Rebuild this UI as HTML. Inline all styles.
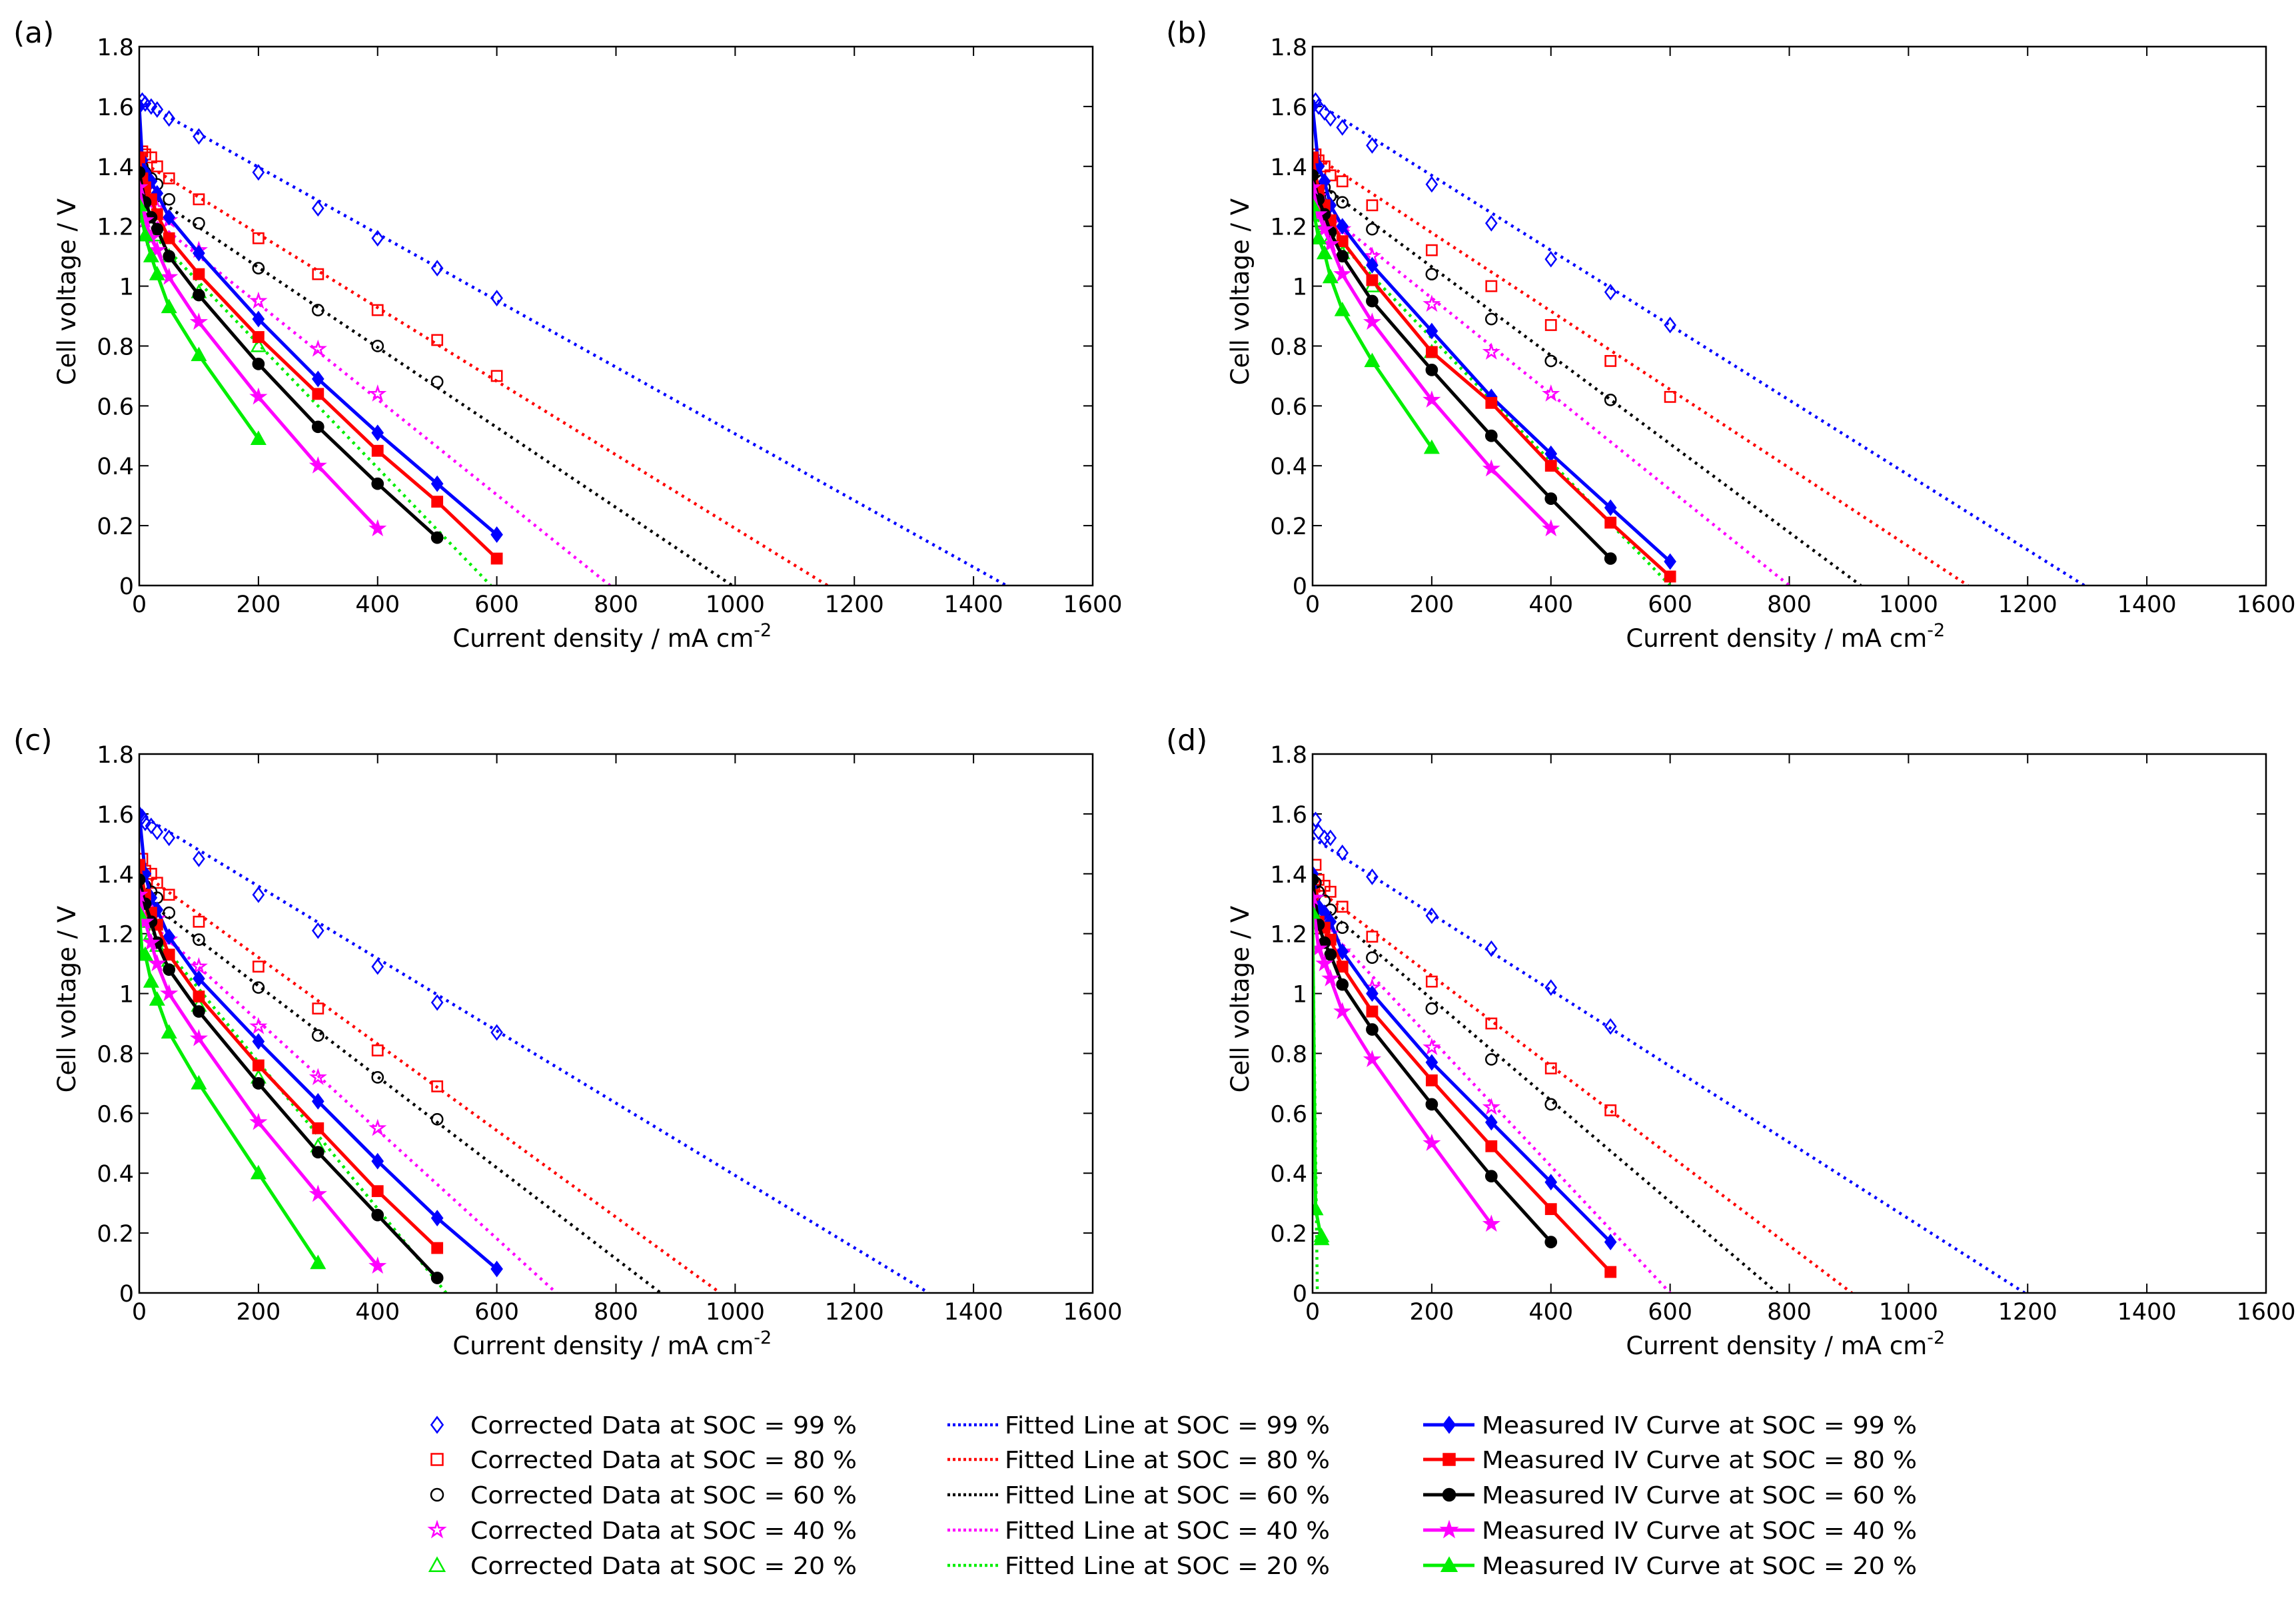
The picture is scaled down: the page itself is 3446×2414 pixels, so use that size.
<!DOCTYPE html>
<html><head><meta charset="utf-8">
<style>
html,body{margin:0;padding:0;background:#fff;}
svg{display:block;font-family:"DejaVu Sans","Liberation Sans",sans-serif;}
</style></head>
<body>
<svg id="fig" width="3446" height="2414" viewBox="0 0 3446 2414" xmlns="http://www.w3.org/2000/svg"></svg>
<script>
// ---------------- data ----------------
const xTicks = [0,200,400,600,800,1000,1200,1400,1600];
const yTicks = [0,0.2,0.4,0.6,0.8,1,1.2,1.4,1.6,1.8];
const yTickLabels = ["0","0.2","0.4","0.6","0.8","1","1.2","1.4","1.6","1.8"];
const socLabels = ["99","80","60","40","20"];
const colors = ["#0000ff","#ff0000","#000000","#ff00ff","#00ee00"];
const shapes = ["diamond","square","circle","star","triangle"];

// Panel (a)
const A_fitV0 = [1.62,1.42,1.33,1.26,1.22];
const A_fitX0 = [1455,1155,995,790,590];
const A_cx = [[5,10,20,30,50,100,200,300,400,500,600],[5,10,20,30,50,100,200,300,400,500,600],[5,10,20,30,50,100,200,300,400,500],[5,10,20,30,50,100,200,300,400],[5,10,20,30,50,100,200]];
const A_cv = [[1.62,1.61,1.60,1.59,1.56,1.50,1.38,1.26,1.16,1.06,0.96],[1.45,1.44,1.43,1.40,1.36,1.29,1.16,1.04,0.92,0.82,0.70],[1.40,1.38,1.36,1.34,1.29,1.21,1.06,0.92,0.80,0.68],[1.34,1.32,1.28,1.26,1.22,1.12,0.95,0.79,0.64],[1.28,1.25,1.20,1.17,1.10,0.98,0.80]];
const A_mx = [[0,5,10,20,30,50,100,200,300,400,500,600],[0,5,10,20,30,50,100,200,300,400,500,600],[0,10,20,30,50,100,200,300,400,500],[0,10,20,30,50,100,200,300,400],[0,10,20,30,50,100,200]];
const A_mv = [[1.60,1.42,1.38,1.35,1.31,1.23,1.11,0.89,0.69,0.51,0.34,0.17],[1.43,1.36,1.33,1.29,1.24,1.16,1.04,0.83,0.64,0.45,0.28,0.09],[1.38,1.28,1.23,1.19,1.10,0.97,0.74,0.53,0.34,0.16],[1.33,1.22,1.16,1.12,1.03,0.88,0.63,0.40,0.19],[1.27,1.17,1.10,1.04,0.93,0.77,0.49]];

// Panel (b)
const B_fitV0 = [1.62,1.44,1.36,1.28,1.24];
const B_fitX0 = [1295,1100,920,800,600];
const B_cx = [[5,10,20,30,50,100,200,300,400,500,600],[5,10,20,30,50,100,200,300,400,500,600],[5,10,20,30,50,100,200,300,400,500],[5,10,20,30,50,100,200,300,400],[5,10,20,30,50,100,200]];
const B_cv = [[1.62,1.60,1.58,1.56,1.53,1.47,1.34,1.21,1.09,0.98,0.87],[1.44,1.42,1.40,1.37,1.35,1.27,1.12,1.00,0.87,0.75,0.63],[1.38,1.36,1.33,1.30,1.28,1.19,1.04,0.89,0.75,0.62],[1.33,1.30,1.27,1.22,1.19,1.10,0.94,0.78,0.64],[1.28,1.24,1.20,1.16,1.11,1.00,0.78]];
const B_mx = [[0,10,20,30,50,100,200,300,400,500,600],[0,10,20,30,50,100,200,300,400,500,600],[0,10,20,30,50,100,200,300,400,500],[0,10,20,30,50,100,200,300,400],[0,10,20,30,50,100,200]];
const B_mv = [[1.60,1.40,1.35,1.27,1.20,1.07,0.85,0.63,0.44,0.26,0.08],[1.43,1.32,1.27,1.22,1.15,1.02,0.78,0.61,0.40,0.21,0.03],[1.37,1.29,1.24,1.18,1.10,0.95,0.72,0.50,0.29,0.09],[1.33,1.24,1.19,1.14,1.04,0.88,0.62,0.39,0.19],[1.27,1.16,1.11,1.03,0.92,0.75,0.46]];

// Panel (c)
const C_fitV0 = [1.60,1.41,1.33,1.27,1.26];
const C_fitX0 = [1325,975,875,700,515];
const C_cx = [[5,10,20,30,50,100,200,300,400,500,600],[5,10,20,30,50,100,200,300,400,500],[5,10,20,30,50,100,200,300,400,500],[5,10,20,30,50,100,200,300,400],[5,10,20,30,50,100,200,300]];
const C_cv = [[1.59,1.57,1.56,1.54,1.52,1.45,1.33,1.21,1.09,0.97,0.87],[1.45,1.41,1.40,1.37,1.33,1.24,1.09,0.95,0.81,0.69],[1.39,1.36,1.34,1.32,1.27,1.18,1.02,0.86,0.72,0.58],[1.33,1.31,1.28,1.25,1.18,1.09,0.89,0.72,0.55],[1.28,1.24,1.20,1.16,1.11,0.96,0.72,0.49]];
const C_mx = [[0,10,20,30,50,100,200,300,400,500,600],[0,10,20,30,50,100,200,300,400,500],[0,10,20,30,50,100,200,300,400,500],[0,10,20,30,50,100,200,300,400],[0,5,10,20,30,50,100,200,300]];
const C_mv = [[1.60,1.40,1.32,1.28,1.19,1.05,0.84,0.64,0.44,0.25,0.08],[1.43,1.33,1.27,1.23,1.13,0.99,0.76,0.55,0.34,0.15],[1.38,1.30,1.24,1.17,1.08,0.94,0.70,0.47,0.26,0.05],[1.33,1.24,1.17,1.10,1.00,0.85,0.57,0.33,0.09],[1.27,1.13,1.13,1.04,0.98,0.87,0.70,0.40,0.10]];

// Panel (d)
const D_fitV0 = [1.52,1.36,1.32,1.27,1.27];
const D_fitX0 = [1195,905,780,600,8];
const D_cx = [[5,10,20,30,50,100,200,300,400,500],[5,10,20,30,50,100,200,300,400,500],[5,10,20,30,50,100,200,300,400],[5,10,20,30,50,100,200,300],[2,15]];
const D_cv = [[1.58,1.54,1.52,1.52,1.47,1.39,1.26,1.15,1.02,0.89],[1.43,1.38,1.36,1.34,1.29,1.19,1.04,0.90,0.75,0.61],[1.37,1.34,1.31,1.28,1.22,1.12,0.95,0.78,0.63],[1.32,1.28,1.24,1.20,1.14,1.02,0.82,0.62],[1.27,0.19]];
const D_mx = [[0,10,20,30,50,100,200,300,400,500],[0,10,20,30,50,100,200,300,400,500],[0,10,20,30,50,100,200,300,400],[0,10,20,30,50,100,200,300],[0,5,15]];
const D_mv = [[1.40,1.29,1.27,1.24,1.14,1.00,0.77,0.57,0.37,0.17],[1.33,1.24,1.22,1.18,1.09,0.94,0.71,0.49,0.28,0.07],[1.38,1.23,1.17,1.13,1.03,0.88,0.63,0.39,0.17],[1.32,1.15,1.10,1.05,0.94,0.78,0.50,0.23],[1.27,0.28,0.18]];

const panels = [
  {id:"a", ox:209, oy:70, lx:20, fitV0:A_fitV0, fitX0:A_fitX0, cx:A_cx, cv:A_cv, mx:A_mx, mv:A_mv},
  {id:"b", ox:1970, oy:70, lx:1750, fitV0:B_fitV0, fitX0:B_fitX0, cx:B_cx, cv:B_cv, mx:B_mx, mv:B_mv},
  {id:"c", ox:209, oy:1132, lx:20, fitV0:C_fitV0, fitX0:C_fitX0, cx:C_cx, cv:C_cv, mx:C_mx, mv:C_mv},
  {id:"d", ox:1970, oy:1132, lx:1750, fitV0:D_fitV0, fitX0:D_fitX0, cx:D_cx, cv:D_cv, mx:D_mx, mv:D_mv}
];
const PW = 1431, PH = 809, XMAX = 1600, YMAX = 1.8;

// ---------------- drawing ----------------
const NS = "http://www.w3.org/2000/svg";
const svg = document.getElementById("fig");
function mk(tag, attrs, parent){
  const e = document.createElementNS(NS, tag);
  for (const k in attrs) e.setAttribute(k, attrs[k]);
  (parent||svg).appendChild(e);
  return e;
}
function marker(g, shape, x, y, color, filled, s){
  let e;
  const fill = filled ? color : "none";
  if (shape === "diamond"){
    const h = s*1.15;
    e = mk("polygon", {points:`${x},${y-h} ${x+h*0.75},${y} ${x},${y+h} ${x-h*0.75},${y}`, fill:fill, stroke:color, "stroke-width":2.5}, g);
  } else if (shape === "square"){
    e = mk("rect", {x:x-s*0.85, y:y-s*0.85, width:s*1.7, height:s*1.7, fill:fill, stroke:color, "stroke-width":2.5}, g);
  } else if (shape === "circle"){
    e = mk("circle", {cx:x, cy:y, r:s*0.9, fill:fill, stroke:color, "stroke-width":2.5}, g);
  } else if (shape === "star"){
    let p = [];
    for (let i=0;i<10;i++){
      const r = i%2===0 ? s*1.15 : s*0.45;
      const a = -Math.PI/2 + i*Math.PI/5;
      p.push((x+r*Math.cos(a)).toFixed(1)+","+(y+r*Math.sin(a)).toFixed(1));
    }
    e = mk("polygon", {points:p.join(" "), fill:fill, stroke:color, "stroke-width":2.5}, g);
  } else {
    const h = s*1.1;
    e = mk("polygon", {points:`${x},${y-h} ${x+h},${y+h*0.8} ${x-h},${y+h*0.8}`, fill:fill, stroke:color, "stroke-width":2.5}, g);
  }
  
  
  return e;
}

panels.forEach(P => {
  const sx = v => P.ox + v/XMAX*PW;
  const sy = v => P.oy + PH - v/YMAX*PH;
  const g = mk("g", {});
  
  

  const cp = mk("clipPath", {id:"clip"+P.id}, g);
  mk("rect", {x:P.ox, y:P.oy, width:PW, height:PH}, cp);

  const tg = mk("g", {}, g);
  
  
  xTicks.forEach(t => {
    const x = sx(t);
    mk("line", {x1:x, y1:P.oy+PH, x2:x, y2:P.oy+PH-14, stroke:"#000", "stroke-width":2}, tg);
    mk("line", {x1:x, y1:P.oy, x2:x, y2:P.oy+14, stroke:"#000", "stroke-width":2}, tg);
    const tx = mk("text", {x:x, y:P.oy+PH+40, "font-size":35, "text-anchor":"middle", fill:"#000"}, tg);
    tx.textContent = t;
    
    
  });
  yTicks.forEach((t,i) => {
    const y = sy(t);
    mk("line", {x1:P.ox, y1:y, x2:P.ox+14, y2:y, stroke:"#000", "stroke-width":2}, tg);
    mk("line", {x1:P.ox+PW, y1:y, x2:P.ox+PW-14, y2:y, stroke:"#000", "stroke-width":2}, tg);
    const tx = mk("text", {x:P.ox-8, y:y+13, "font-size":35, "text-anchor":"end", fill:"#000"}, tg);
    tx.textContent = yTickLabels[i];
    
    
  });

  const series = mk("g", {"clip-path":`url(#clip${P.id})`}, g);
  
  

  for (let k=0;k<5;k++){
    const fl = mk("line", {x1:sx(0), y1:sy(P.fitV0[k]), x2:sx(P.fitX0[k]), y2:sy(0), stroke:colors[k], "stroke-width":4.5, "stroke-dasharray":"4 7"}, series);
    
    
    P.cx[k].forEach((xv,i) => marker(series, shapes[k], sx(xv), sy(P.cv[k][i]), colors[k], false, 9));
  }
  for (let k=0;k<5;k++){
    const pts = P.mx[k].map((xv,i) => sx(xv).toFixed(1)+","+sy(P.mv[k][i]).toFixed(1)).join(" ");
    const pl = mk("polyline", {points:pts, fill:"none", stroke:colors[k], "stroke-width":5, "stroke-linejoin":"round"}, series);
    
    
    P.mx[k].forEach((xv,i) => marker(series, shapes[k], sx(xv), sy(P.mv[k][i]), colors[k], true, 9));
  }

  const fr = mk("rect", {x:P.ox, y:P.oy, width:PW, height:PH, fill:"none", stroke:"#000", "stroke-width":2.5}, g);
  
  

  const xl = mk("text", {x:P.ox+PW*0.496, y:P.oy+PH+92, "font-size":37, "text-anchor":"middle", fill:"#000"}, g);
  
  
  xl.innerHTML = 'Current density / mA cm<tspan dy="-16" font-size="27">-2</tspan>';
  const yl = mk("text", {x:0, y:0, "font-size":37, "text-anchor":"middle", fill:"#000", transform:`translate(${P.ox-96},${P.oy+PH*0.455}) rotate(-90)`}, g);
  yl.textContent = "Cell voltage / V";
  
  
  const pl = mk("text", {x:P.lx, y:P.oy-6, "font-size":44, fill:"#000"}, g);
  pl.textContent = "(" + P.id + ")";
  
  
});

// ---------------- legend ----------------
const lg = mk("g", {});


const rowY = [2139, 2191, 2244, 2297, 2350];
for (let k=0;k<5;k++){
  const y = rowY[k];
  const e1 = mk("g", {}, lg);
  
  
  marker(e1, shapes[k], 656, y, colors[k], false, 10);
  const t1 = mk("text", {x:706, y:y+13, "font-size":36, fill:"#000", textLength:580, lengthAdjust:"spacingAndGlyphs"}, e1);
  t1.textContent = "Corrected Data at SOC = " + socLabels[k] + " %";

  const e2 = mk("g", {}, lg);
  
  
  mk("line", {x1:1422, y1:y, x2:1500, y2:y, stroke:colors[k], "stroke-width":4.5, "stroke-dasharray":"4 4"}, e2);
  const t2 = mk("text", {x:1508, y:y+13, "font-size":36, fill:"#000", textLength:488, lengthAdjust:"spacingAndGlyphs"}, e2);
  t2.textContent = "Fitted Line at SOC = " + socLabels[k] + " %";

  const e3 = mk("g", {}, lg);
  
  
  mk("line", {x1:2136, y1:y, x2:2213, y2:y, stroke:colors[k], "stroke-width":5}, e3);
  marker(e3, shapes[k], 2175, y, colors[k], true, 10);
  const t3 = mk("text", {x:2224, y:y+13, "font-size":36, fill:"#000", textLength:653, lengthAdjust:"spacingAndGlyphs"}, e3);
  t3.textContent = "Measured IV Curve at SOC = " + socLabels[k] + " %";
}
</script>
</body></html>
